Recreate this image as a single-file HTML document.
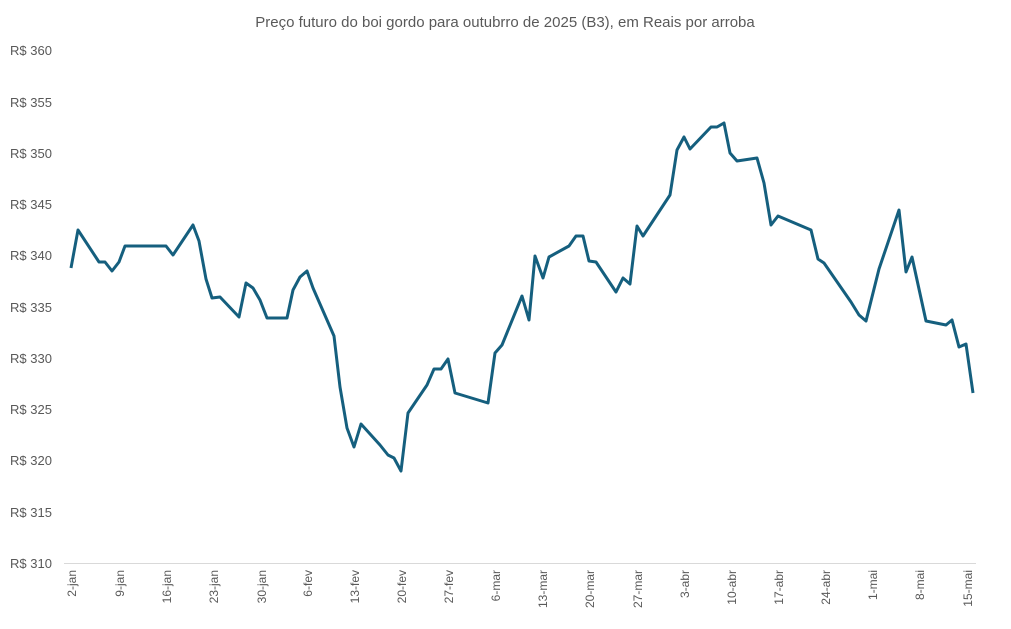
<!DOCTYPE html>
<html><head><meta charset="utf-8"><style>
body{margin:0;background:#fff;}
svg{display:block;font-family:"Liberation Sans",sans-serif;}
</style></head><body>
<svg width="1011" height="629" viewBox="0 0 1011 629" xmlns="http://www.w3.org/2000/svg">
<rect width="1011" height="629" fill="#fff"/>
<text x="505" y="27" text-anchor="middle" font-size="15" fill="#595959">Preço futuro do boi gordo para outubrro de 2025 (B3), em Reais por arroba</text>
<g font-size="13" fill="#595959">
<text x="10" y="55">R$ 360</text>
<text x="10" y="107">R$ 355</text>
<text x="10" y="158">R$ 350</text>
<text x="10" y="209">R$ 345</text>
<text x="10" y="260">R$ 340</text>
<text x="10" y="312">R$ 335</text>
<text x="10" y="363">R$ 330</text>
<text x="10" y="414">R$ 325</text>
<text x="10" y="465">R$ 320</text>
<text x="10" y="517">R$ 315</text>
<text x="10" y="568">R$ 310</text>
</g>
<line x1="64" y1="563.5" x2="976" y2="563.5" stroke="#d9d9d9" stroke-width="1"/>
<g font-size="12" fill="#595959" text-anchor="end">
<text transform="translate(76,570) rotate(-90)">2-jan</text>
<text transform="translate(124,570) rotate(-90)">9-jan</text>
<text transform="translate(171,570) rotate(-90)">16-jan</text>
<text transform="translate(218,570) rotate(-90)">23-jan</text>
<text transform="translate(266,570) rotate(-90)">30-jan</text>
<text transform="translate(312,570) rotate(-90)">6-fev</text>
<text transform="translate(359,570) rotate(-90)">13-fev</text>
<text transform="translate(406,570) rotate(-90)">20-fev</text>
<text transform="translate(453,570) rotate(-90)">27-fev</text>
<text transform="translate(500,570) rotate(-90)">6-mar</text>
<text transform="translate(547,570) rotate(-90)">13-mar</text>
<text transform="translate(594,570) rotate(-90)">20-mar</text>
<text transform="translate(642,570) rotate(-90)">27-mar</text>
<text transform="translate(689,570) rotate(-90)">3-abr</text>
<text transform="translate(736,570) rotate(-90)">10-abr</text>
<text transform="translate(783,570) rotate(-90)">17-abr</text>
<text transform="translate(830,570) rotate(-90)">24-abr</text>
<text transform="translate(877,570) rotate(-90)">1-mai</text>
<text transform="translate(924,570) rotate(-90)">8-mai</text>
<text transform="translate(972,570) rotate(-90)">15-mai</text>
</g>
<polyline fill="none" stroke="#155f7e" stroke-width="3" stroke-linejoin="round" points="71,268 78,230 99,262 105,262 112,271 119,262 125,246 166,246 173,255 193,225 199,241 206,279 212,298 220,297 239,317 246,283 253,288 260,300 267,318 287,318 293,290 300,277 307,271 313,288 334,336 340,387 347,428 354,447 361,424 380,445 388,455 394,458 401,471 408,413 427,385 434,369 441,369 448,359 455,393 488,403 495,353 502,345 522,296 529,320 535,256 543,278 549,257 569,246 576,236 583,236 589,261 596,262 616,292 623,278 630,284 637,226 643,236 670,195 677,150 684,137 690,149 711,127 717,127 724,123 730,153 737,161 757,158 764,183 771,225 778,216 811,230 818,259 824,263 851,302 859,315 866,321 879,269 899,210 906,272 912,257 926,321 946,325 952,320 959,347 966,344 973,393"/>
</svg>
</body></html>
